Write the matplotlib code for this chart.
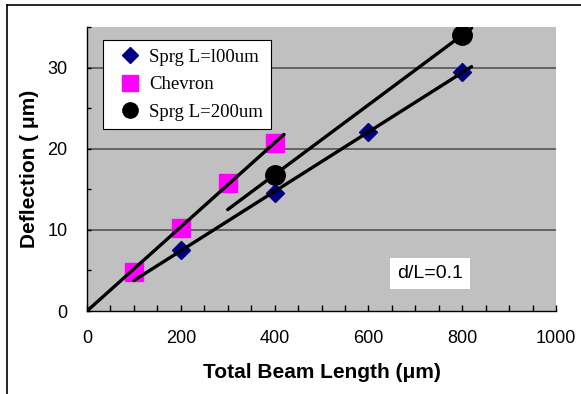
import numpy as np
import matplotlib
matplotlib.use("Agg")
import matplotlib.pyplot as plt
from matplotlib.lines import Line2D

# ---- data ----
sprg100_x = [200, 400, 600, 800]
sprg100_y = [7.5, 14.6, 22.1, 29.4]
chevron_x = [100, 200, 300, 400]
chevron_y = [4.8, 10.2, 15.8, 20.7]
sprg200_x = [400, 800]
sprg200_y = [16.8, 34.0]

# trendline x-extents
chevron_fit_range = [0, 420]
sprg100_fit_range = [100, 820]
sprg200_fit_range = [300, 820]

x_ticks = [0, 200, 400, 600, 800, 1000]
y_ticks = [0, 10, 20, 30]

plt.rcParams['font.family'] = ['Liberation Sans', 'DejaVu Sans']

fig = plt.figure(figsize=(5.81, 3.94), dpi=100)
ax = fig.add_axes([87/581, 1 - 311/394, (556-87)/581, (311-27)/394])
ax.set_facecolor('#c0c0c0')

# figure frame (top & left visible)
fig.add_artist(Line2D([7/581, 1.0], [1 - 4.5/394, 1 - 4.5/394], transform=fig.transFigure,
                      color='black', lw=1.2))
fig.add_artist(Line2D([7/581, 7/581], [0, 1 - 4.5/394], transform=fig.transFigure,
                      color='black', lw=1.2))

ax.set_xlim(0, 1000)
ax.set_ylim(0, 35)

# gridlines
for yv in [10, 20, 30]:
    ax.axhline(yv, color='#555555', lw=1.2, zorder=1)

# trendlines
cx = np.array(chevron_x, float); cy = np.array(chevron_y, float)
slope_c = np.sum(cx*cy)/np.sum(cx*cx)
xr = np.array(chevron_fit_range, float)
ax.plot(xr, slope_c*xr, color='black', lw=2.4, zorder=3, solid_capstyle='round')

p1 = np.polyfit(sprg100_x, sprg100_y, 1)
xr = np.array(sprg100_fit_range, float)
ax.plot(xr, np.polyval(p1, xr), color='black', lw=2.4, zorder=3, solid_capstyle='round')

p2 = np.polyfit(sprg200_x, sprg200_y, 1)
xr = np.array(sprg200_fit_range, float)
ax.plot(xr, np.polyval(p2, xr), color='black', lw=2.4, zorder=3, solid_capstyle='round')

# markers
ax.plot(sprg100_x, sprg100_y, 'D', color='#000080', ms=9, mec='#000080',
        ls='none', zorder=2)
ax.plot(chevron_x, chevron_y, 's', color='#ff00ff', ms=13, mec='#ff00ff',
        ls='none', zorder=2)
ax.plot(sprg200_x, sprg200_y, 'o', color='black', ms=14,
        ls='none', zorder=2)

# legend
leg_handles = [
    Line2D([], [], marker='D', color='#000080', ls='none', ms=8),
    Line2D([], [], marker='s', color='#ff00ff', ls='none', ms=11),
    Line2D([], [], marker='o', color='black', ls='none', ms=11),
]
leg = ax.legend(leg_handles, ['Sprg L=l00um', 'Chevron', 'Sprg L=200um'],
                loc='upper left', bbox_to_anchor=(0.034, 0.954),
                prop={'family': 'Liberation Serif', 'size': 13.5},
                frameon=True, fancybox=False, framealpha=1,
                edgecolor='black', handlelength=2.0, handletextpad=0.0,
                borderpad=0.45, labelspacing=0.55, borderaxespad=0)
leg.get_frame().set_linewidth(0.8)
for t in leg.get_texts():
    t.set_fontstretch('expanded')

# annotation
ax.text(731, 4.6, 'd/L=0.1', fontsize=14, ha='center', va='center', zorder=4,
        bbox=dict(boxstyle='square,pad=0.35', fc='white', ec='none'))

# axes styling
for s in ['top', 'right']:
    ax.spines[s].set_visible(False)
ax.spines['left'].set_linewidth(1.0)
ax.spines['bottom'].set_linewidth(1.0)

ax.set_xticks(x_ticks)
ax.set_yticks(y_ticks)
ax.set_xticks(np.arange(0, 1001, 50), minor=True)
ax.set_yticks(np.arange(0, 36, 5), minor=True)
ax.tick_params(axis='both', which='both', direction='in', length=4, width=1,
               labelsize=13)
ax.tick_params(axis='x', which='major', pad=14)
ax.tick_params(axis='y', which='major', pad=14)
ax.tick_params(axis='y', which='both', length=3)

ax.set_xlabel('Total Beam Length (\u03bcm)', fontsize=15, fontweight='bold', labelpad=11)
ax.set_ylabel('Deflection ( \u03bcm)', fontsize=15, fontweight='bold', labelpad=6)

fig.savefig('out.png', dpi=100)
